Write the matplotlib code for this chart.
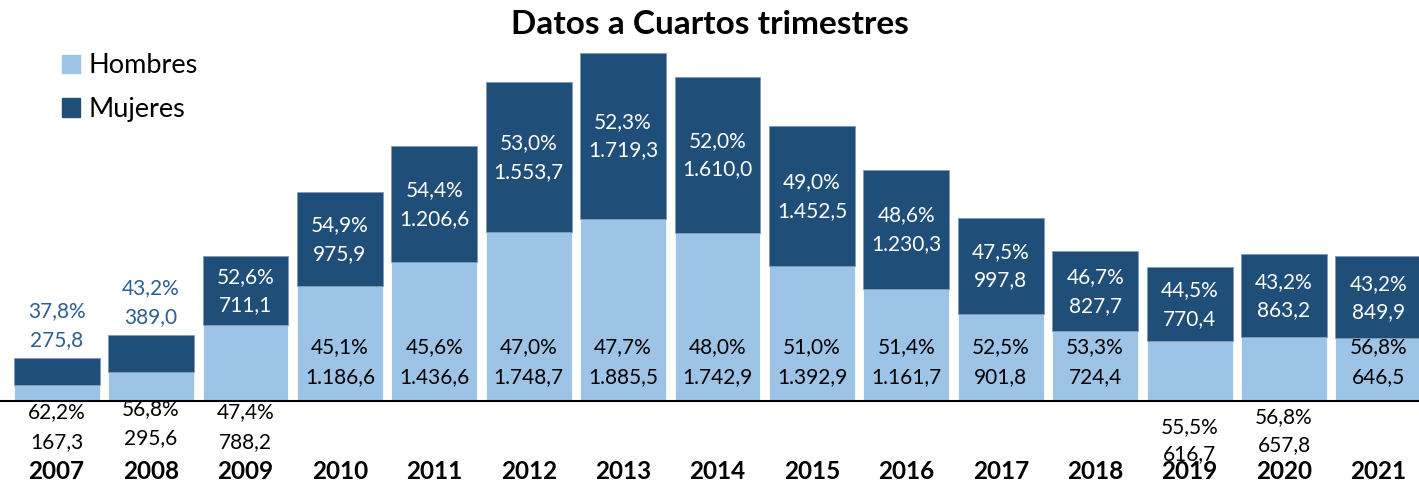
import matplotlib
matplotlib.use("Agg")
import matplotlib.pyplot as plt
from matplotlib.patches import Patch

plt.rcParams["font.family"] = ["Lato", "DejaVu Sans"]

# ── data (miles) ────────────────────────────────────────────────────
years = [2007, 2008, 2009, 2010, 2011, 2012, 2013, 2014, 2015, 2016,
         2017, 2018, 2019, 2020, 2021]
hombres = [167.3, 295.6, 788.2, 1186.6, 1436.6, 1748.7, 1885.5, 1742.9,
           1392.9, 1161.7, 901.8, 724.4, 616.7, 657.8, 646.5]
hombres_pct = [62.2, 56.8, 47.4, 45.1, 45.6, 47.0, 47.7, 48.0, 51.0, 51.4,
               52.5, 53.3, 55.5, 56.8, 56.8]
mujeres = [275.8, 389.0, 711.1, 975.9, 1206.6, 1553.7, 1719.3, 1610.0,
           1452.5, 1230.3, 997.8, 827.7, 770.4, 863.2, 849.9]
mujeres_pct = [37.8, 43.2, 52.6, 54.9, 54.4, 53.0, 52.3, 52.0, 49.0, 48.6,
               47.5, 46.7, 44.5, 43.2, 43.2]

# ── style ───────────────────────────────────────────────────────────
C_H = "#9DC3E6"
C_M = "#1F4E79"
C_M_TXT = "#2E5F8F"
FS = 15

# labels for short bars go outside (below axis / above bar)
h_below = {2007: (-8, -30), 2008: (-6, -27), 2009: (-8, -30),
           2019: (-19, -38), 2020: (-12, -32)}
m_above = {2007, 2008}


def es(v, dec=1):
    s = f"{v:,.{dec}f}"
    return s.replace(",", "X").replace(".", ",").replace("X", ".")


fig = plt.figure(figsize=(14.19, 4.83), dpi=100)
ax = fig.add_axes([0, 0.17, 1, 0.83])
ax.set_xlim(-0.6, 14.43)
ax.set_ylim(0, 4154)

x = list(range(len(years)))
ax.bar(x, hombres, width=0.91, color=C_H, edgecolor="white", linewidth=0.6,
       label="Hombres")
ax.bar(x, mujeres, width=0.91, bottom=hombres, color=C_M, edgecolor="#7F9BB8",
       linewidth=0.6, label="Mujeres")

for i, yr in enumerate(years):
    h, m = hombres[i], mujeres[i]
    hp, mp = es(hombres_pct[i]) + "%", es(mujeres_pct[i]) + "%"
    # hombres
    if yr in h_below:
        o1, o2 = h_below[yr]
        for txt, off in ((hp, o1), (es(h), o2)):
            ax.annotate(txt, (i, 0), xytext=(0, off), textcoords="offset points",
                        ha="center", va="center", fontsize=FS, color="black",
                        annotation_clip=False)
    else:
        for txt, off in ((hp, 38.9), (es(h), 17.3)):
            ax.annotate(txt, (i, 0), xytext=(0, off), textcoords="offset points",
                        ha="center", va="center", fontsize=FS, color="black")
    # mujeres
    if yr in m_above:
        for txt, off in ((mp, 34), (es(m), 13)):
            ax.annotate(txt, (i, h + m), xytext=(0, off),
                        textcoords="offset points", ha="center", va="center",
                        fontsize=FS, color=C_M_TXT)
    else:
        for txt, off in ((mp, 10), (es(m), -10.5)):
            ax.annotate(txt, (i, h + m / 2), xytext=(0, off),
                        textcoords="offset points", ha="center", va="center",
                        fontsize=FS, color="white")
    ax.annotate(str(yr), (i, 0), xytext=(0, -51), textcoords="offset points",
                ha="center", va="center", fontsize=17.5, fontweight="bold",
                annotation_clip=False)

for s in ("top", "right", "left"):
    ax.spines[s].set_visible(False)
ax.spines["bottom"].set_linewidth(1.5)
ax.set_xticks([])
ax.set_yticks([])

fig.text(0.5, 0.95, "Datos a Cuartos trimestres", ha="center", va="center",
         fontsize=24, fontweight="bold")

handles = [Patch(color=C_H, label="Hombres"), Patch(color=C_M, label="Mujeres")]
fig.legend(handles=handles, loc="upper left", bbox_to_anchor=(0.036, 0.912),
           frameon=False, fontsize=19.5, handlelength=0.67, handleheight=0.67,
           handletextpad=0.3, labelspacing=0.69, borderaxespad=0)

fig.savefig("out.png", dpi=100)
